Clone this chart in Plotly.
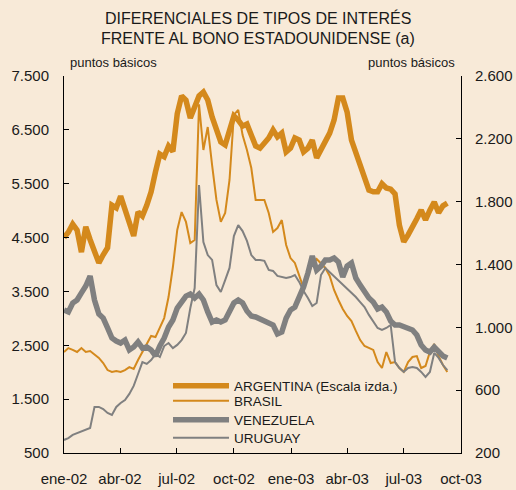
import pandas as pd
import plotly.graph_objects as go

# weekly observations, Jan 2002 - Sep 2003
dates = pd.date_range("2002-01-01", periods=89, freq="7D")

argentina = [4500, 4600, 4750, 4640, 4230, 4700, 4460, 4210, 4030, 4180, 4310,
             5100, 5050, 5270, 5030, 4830, 4530, 4975, 4900, 5100, 5350,
             5720, 6050, 6000, 6200, 6100, 6800, 7130, 7050, 6720, 6960,
             7130, 7200, 7055, 6740, 6480, 6275, 6220, 6500, 6760, 6680,
             6570, 6610, 6420, 6200, 6160, 6240, 6350, 6500, 6370, 6440,
             6090, 6160, 6350, 6310, 6090, 6160, 6310, 5980, 6130, 6260,
             6440, 6680, 7090, 7090, 6830, 6310, 6090, 5830, 5640, 5380,
             5350, 5350, 5500, 5420, 5400, 5310, 4730, 4420, 4550, 4680,
             4850, 5010, 4830, 5010, 5160, 4960, 5090, 5140]

brasil = [843, 868, 856, 843, 868, 843, 849, 824, 805, 773, 728,
          716, 722, 716, 728, 747, 735, 792, 843, 888, 945,
          938, 996, 1059, 1193, 1384, 1620, 1734, 1671, 1537, 1556,
          2420, 2129, 2275, 2033, 1811, 1671, 1728, 1938, 2352, 2384,
          2224, 2129, 2014, 1811, 1811, 1811, 1728, 1607, 1632, 1683,
          1524, 1441, 1410, 1333, 1250, 1333, 1403, 1435, 1403, 1378,
          1327, 1238, 1174, 1117, 1072, 1040, 977, 919, 881, 868,
          856, 779, 741, 843, 773, 779, 741, 716, 779, 811,
          817, 741, 754, 843, 894, 817, 760, 716]

venezuela = [1110, 1098, 1155, 1174, 1219, 1263, 1327, 1174, 1085, 1059, 996,
             932, 913, 900, 919, 856, 875, 907, 868, 875, 856,
             818, 881, 932, 1002, 1047, 1123, 1168, 1199, 1212, 1187,
             1212, 1174, 1098, 1034, 1047, 1034, 1047, 1104, 1155, 1174,
             1155, 1104, 1072, 1066, 1053, 1040, 1028, 1015, 958, 970,
             1059, 1110, 1129, 1193, 1257, 1346, 1454, 1365, 1390, 1429,
             1429, 1441, 1416, 1320, 1390, 1410, 1314, 1269, 1219, 1187,
             1161, 1117, 1129, 1098, 1040, 1015, 1015, 1002, 996, 983,
             951, 888, 856, 843, 875, 849, 818, 805]

uruguay = [283, 295, 315, 327, 334, 346, 359, 493, 493, 480, 455,
           442, 493, 518, 537, 576, 627, 703, 779, 767, 792,
           830, 811, 881, 900, 868, 888, 919, 964, 1123, 1250,
           1906, 1543, 1460, 1429, 1269, 1225, 1301, 1378, 1581, 1651,
           1613, 1550, 1460, 1429, 1429, 1423, 1365, 1359, 1327, 1320,
           1314, 1320, 1333, 1289, 1231, 1187, 1136, 1155, 1333, 1378,
           1352, 1327, 1301, 1269, 1244, 1219, 1193, 1161, 1129, 1079,
           1040, 996, 983, 996, 1015, 779, 741, 716, 741, 747,
           741, 716, 684, 716, 837, 805, 760, 728]

x_tickvals = ["2002-01-01", "2002-04-01", "2002-07-01", "2002-10-01",
              "2003-01-01", "2003-04-01", "2003-07-01", "2003-10-01"]
x_ticktext = ["ene-02", "abr-02", "jul-02", "oct-02",
              "ene-03", "abr-03", "jul-03", "oct-03"]
left_tickvals = [500, 1500, 2500, 3500, 4500, 5500, 6500, 7500]
left_ticktext = ["500", "1.500", "2.500", "3.500", "4.500", "5.500", "6.500", "7.500"]
right_tickvals = [200, 600, 1000, 1400, 1800, 2200, 2600]
right_ticktext = ["200", "600", "1.000", "1.400", "1.800", "2.200", "2.600"]

ORANGE = "#d4891c"
GRAY = "#808080"
BG = "#f8ead8"
TXT = "#1a1a1a"
FONT = "Liberation Sans, Arial, sans-serif"

series = [
    ("ARGENTINA (Escala izda.)", argentina, ORANGE, 5.5, "y", "legend"),
    ("BRASIL", brasil, ORANGE, 2, "y2", "legend2"),
    ("VENEZUELA", venezuela, GRAY, 5.5, "y2", "legend3"),
    ("URUGUAY", uruguay, GRAY, 2, "y2", "legend4"),
]

fig = go.Figure()
for name, vals, col, w, ax, lg in series:
    fig.add_trace(go.Scatter(x=dates, y=vals, mode="lines", name=name,
                             line=dict(color=col, width=w), yaxis=ax, legend=lg))

legend_y = [0.178, 0.138, 0.0875, 0.040]
legend_common = dict(x=0.262, xanchor="left", yanchor="middle",
                     bgcolor="rgba(0,0,0,0)", borderwidth=0,
                     font=dict(size=13.5, family=FONT, color=TXT), itemwidth=56)

axis_common = dict(showgrid=False, zeroline=False, showline=True, linecolor="black",
                   linewidth=1, ticks="inside", ticklen=5, tickcolor="black",
                   tickfont=dict(size=15, family=FONT, color=TXT), automargin=False)

fig.update_layout(
    width=516, height=490,
    margin=dict(l=64, r=55, t=76, b=37),
    paper_bgcolor=BG, plot_bgcolor=BG,
    font=dict(family=FONT, color=TXT, size=15),
    showlegend=True,
    legend=dict(legend_common, y=legend_y[0]),
    legend2=dict(legend_common, y=legend_y[1]),
    legend3=dict(legend_common, y=legend_y[2]),
    legend4=dict(legend_common, y=legend_y[3]),
    xaxis=dict(axis_common, type="date", range=["2002-01-01", "2003-10-01"],
               tickvals=x_tickvals, ticktext=x_ticktext, ticklabelstandoff=12),
    yaxis=dict(axis_common, range=[500, 7500], tickvals=left_tickvals,
               ticktext=left_ticktext, ticklabelstandoff=11),
    yaxis2=dict(axis_common, range=[200, 2600], tickvals=right_tickvals,
                ticktext=right_ticktext, overlaying="y", side="right",
                ticklabelstandoff=10),
    annotations=[
        dict(text="DIFERENCIALES DE TIPOS DE INTERÉS", xref="paper", yref="paper",
             x=(258 - 64) / 397, y=(453 - 18) / 377, xanchor="center", yanchor="middle",
             showarrow=False, font=dict(size=16, family=FONT, color=TXT)),
        dict(text="FRENTE AL BONO ESTADOUNIDENSE (a)", xref="paper", yref="paper",
             x=(258 - 64) / 397, y=(453 - 39) / 377, xanchor="center", yanchor="middle",
             showarrow=False, font=dict(size=16, family=FONT, color=TXT)),
        dict(text="puntos básicos", xref="paper", yref="paper", x=0.01,
             y=(453 - 62) / 377, xanchor="left", yanchor="middle", showarrow=False,
             font=dict(size=13, family=FONT, color=TXT)),
        dict(text="puntos básicos", xref="paper", yref="paper", x=0.99,
             y=(453 - 62) / 377, xanchor="right", yanchor="middle", showarrow=False,
             font=dict(size=13, family=FONT, color=TXT)),
    ],
)

fig.write_html("out.html", config={"displayModeBar": False},
               post_script="document.body.style.margin='0';")
